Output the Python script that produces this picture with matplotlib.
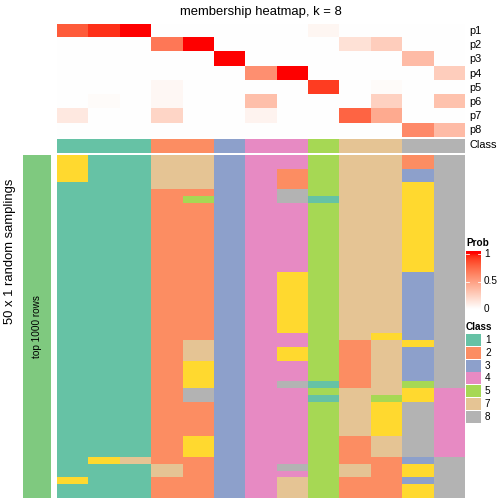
import numpy as np
import matplotlib
matplotlib.use("Agg")
import matplotlib.pyplot as plt
from matplotlib.colors import ListedColormap

plt.rcParams['font.family'] = ['Liberation Sans', 'DejaVu Sans']

# ---------------- data ----------------
prob_rows = ["p1", "p2", "p3", "p4", "p5", "p6", "p7", "p8"]
# membership probabilities, columns = 13 samples
p1 = [0.80, 0.93, 1.00, 0.00, 0.00, 0.00, 0.00, 0.00, 0.05, 0.00, 0.00, 0.00, 0.00]
p2 = [0.00, 0.00, 0.00, 0.68, 1.00, 0.00, 0.00, 0.00, 0.00, 0.16, 0.26, 0.00, 0.00]
p3 = [0.00, 0.00, 0.00, 0.00, 0.00, 1.00, 0.00, 0.00, 0.00, 0.00, 0.00, 0.35, 0.00]
p4 = [0.00, 0.00, 0.00, 0.00, 0.00, 0.00, 0.57, 1.00, 0.00, 0.00, 0.00, 0.00, 0.26]
p5 = [0.00, 0.00, 0.00, 0.04, 0.00, 0.00, 0.00, 0.00, 0.90, 0.00, 0.02, 0.00, 0.00]
p6 = [0.00, 0.02, 0.00, 0.04, 0.00, 0.00, 0.33, 0.00, 0.00, 0.00, 0.24, 0.00, 0.32]
p7 = [0.12, 0.00, 0.00, 0.22, 0.00, 0.00, 0.06, 0.00, 0.00, 0.76, 0.44, 0.00, 0.00]
p8 = [0.00, 0.00, 0.00, 0.00, 0.00, 0.00, 0.00, 0.00, 0.00, 0.00, 0.00, 0.60, 0.35]

sample_class = [1, 1, 1, 2, 2, 3, 4, 4, 5, 7, 7, 8, 8]

# class assignment of each sample in each of 50 random samplings (top row first)
col01 = "66661111111111111111111111111111111111111111111611"
col02 = "11111111111111111111111111111111111111111111611111"
col03 = "11111111111111111111111111111111111111111111711111"
col04 = "77777222222222222222222222222222222222222222277222"
col05 = "77777252222222222222222222277766668822222666222222"
col06 = "33333333333333333333333333333333333333333333333333"
col07 = "44444444444444444444444444444444444444444444444444"
col08 = "44222884444444444666666666446644484444444444484777"
col09 = "55555515555555555555555555555555515155555555555555"
col10 = "77777777777777777777777777722222227777777222277222"
col11 = "77777777777777777777777777677777777566666777222222"
col12 = "22336666666666666333333333363333356688888888366366"
col13 = "88888888888888888888888888888888884444444444888888"

class_levels = [1, 2, 3, 4, 5, 6, 7, 8]
class_colors = ["#66C2A5", "#FC8D62", "#8DA0CB", "#E78AC3", "#A6D854", "#FFD92F", "#E5C494", "#B3B3B3"]
legend_classes = [1, 2, 3, 4, 5, 7, 8]

title = "membership heatmap, k = 8"
left_title = "50 x 1 random samplings"
row_block_title = "top 1000 rows"
row_block_color = "#7FC97F"

# ---------------- helpers ----------------
def srgb_to_lab(rgb):
    rgb = np.asarray(rgb, float)
    lin = np.where(rgb <= 0.04045, rgb / 12.92, ((rgb + 0.055) / 1.055) ** 2.4)
    M = np.array([[0.4124, 0.3576, 0.1805], [0.2126, 0.7152, 0.0722], [0.0193, 0.1192, 0.9505]])
    xyz = M @ lin
    wp = np.array([0.95047, 1.0, 1.08883])
    t = xyz / wp
    f = np.where(t > 0.008856, np.cbrt(t), 7.787 * t + 16 / 116)
    return np.array([116 * f[1] - 16, 500 * (f[0] - f[1]), 200 * (f[1] - f[2])])

def lab_to_srgb(lab):
    L, a, b = lab
    fy = (L + 16) / 116
    fx = fy + a / 500
    fz = fy - b / 200
    def finv(f):
        return f ** 3 if f ** 3 > 0.008856 else (f - 16 / 116) / 7.787
    wp = np.array([0.95047, 1.0, 1.08883])
    xyz = np.array([finv(fx), finv(fy), finv(fz)]) * wp
    Minv = np.array([[3.2406, -1.5372, -0.4986], [-0.9689, 1.8758, 0.0415], [0.0557, -0.2040, 1.0570]])
    lin = np.clip(Minv @ xyz, 0, 1)
    srgb = np.where(lin <= 0.0031308, 12.92 * lin, 1.055 * lin ** (1 / 2.4) - 0.055)
    return np.clip(srgb, 0, 1)

w_lab = srgb_to_lab([1, 1, 1])
r_lab = srgb_to_lab([1, 0, 0])
prob_cmap = ListedColormap([lab_to_srgb(w_lab + (r_lab - w_lab) * t) for t in np.linspace(0, 1, 256)])

W = H = 504.0
def box(x0, y0, x1, y1):
    return [x0 / W, 1 - y1 / H, (x1 - x0) / W, (y1 - y0) / H]

def fx(x):
    return x / W

def fy(y):
    return 1 - y / H

# ---------------- figure ----------------
fig = plt.figure(figsize=(7, 7), dpi=72)

X0, X1 = 57, 465
n_col = len(sample_class)

# probability heatmap
prob = np.array([p1, p2, p3, p4, p5, p6, p7, p8])
ax = fig.add_axes(box(X0, 24, X1, 137.5))
ax.imshow(prob, cmap=prob_cmap, vmin=0, vmax=1, aspect='auto', interpolation='nearest')
ax.set_axis_off()

# class annotation bar
class_cmap = ListedColormap(class_colors)
idx = {c: i for i, c in enumerate(class_levels)}
axc = fig.add_axes(box(X0, 138.5, X1, 153))
axc.imshow(np.array([[idx[c] for c in sample_class]]), cmap=class_cmap, vmin=-0.5,
           vmax=len(class_levels) - 0.5, aspect='auto', interpolation='nearest')
axc.set_axis_off()

row_h = (137.5 - 24) / 8
for i, name in enumerate(prob_rows):
    fig.text(fx(469), fy(24 + row_h * (i + 0.5)), name, fontsize=11, ha='left', va='center')
fig.text(fx(469), fy(145.5), "Class", fontsize=11, ha='left', va='center')

# samplings heatmap
cols = [col01, col02, col03, col04, col05, col06, col07, col08, col09, col10, col11, col12, col13]
mat = np.array([[idx[int(ch)] for ch in col] for col in cols]).T
axb = fig.add_axes(box(X0, 155, X1, 498))
axb.imshow(mat, cmap=class_cmap, vmin=-0.5, vmax=len(class_levels) - 0.5,
           aspect='auto', interpolation='nearest')
axb.set_axis_off()

# left block annotation
axl = fig.add_axes(box(23, 155, 51, 498))
axl.set_facecolor(row_block_color)
axl.set_xticks([]); axl.set_yticks([])
for s in axl.spines.values():
    s.set_visible(False)
axl.text(0.5, 0.5, row_block_title, rotation=90, fontsize=10, ha='center', va='center',
         transform=axl.transAxes)

fig.text(fx(10), fy(251), left_title, rotation=90, fontsize=13, ha='center', va='center')
fig.text(fx(260.5), fy(15.5), title, fontsize=13, ha='center', va='baseline')

# Prob legend
fig.text(fx(466), fy(243), "Prob", fontsize=10, fontweight='bold', ha='left', va='center')
axg = fig.add_axes(box(466, 251, 481, 309))
grad = np.linspace(1.055, 0, 200).reshape(-1, 1)
axg.imshow(grad, cmap=prob_cmap, vmin=0, vmax=1, aspect='auto', extent=[0, 1, 0, 1.055])
axg.set_xlim(0, 1); axg.set_ylim(0, 1.055)
axg.set_axis_off()
for v in [0.5, 1.0]:
    axg.plot([0, 0.2], [v, v], color='white', lw=0.8)
    axg.plot([0.8, 1], [v, v], color='white', lw=0.8)
for v, lab in [(1.0, "1"), (0.5, "0.5"), (0.0, "0")]:
    fig.text(fx(484), fy(309 - 55 * v), lab, fontsize=10, ha='left', va='center')

# Class legend
fig.text(fx(466), fy(327), "Class", fontsize=10, fontweight='bold', ha='left', va='center')
for k, c in enumerate(legend_classes):
    yc = 340 + 12.8 * k
    axs = fig.add_axes(box(466, yc - 6, 481, yc + 6))
    axs.set_facecolor(class_colors[idx[c]])
    axs.set_xticks([]); axs.set_yticks([])
    for s in axs.spines.values():
        s.set_visible(False)
    fig.text(fx(485), fy(yc), str(c), fontsize=10, ha='left', va='center')

fig.savefig("out.png", dpi=72)
